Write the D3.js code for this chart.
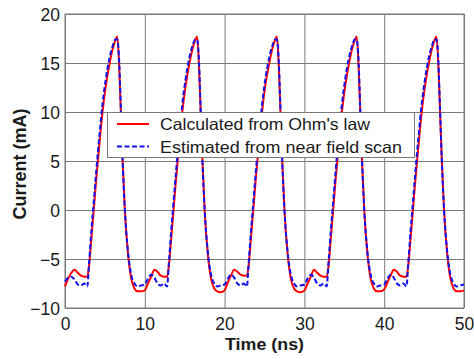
<!DOCTYPE html>
<html>
<head>
<meta charset="utf-8">
<script src="https://cdn.jsdelivr.net/npm/d3@7"></script>
<style>
  body { margin: 0; background: #fff; }
  text { font-family: "Liberation Sans", Arial, Helvetica, sans-serif; fill: #1a1a1a; }
</style>
</head>
<body>
<svg id="chart" width="474" height="359"></svg>
<script>
// time samples (ns)
const timeNs = [
  0, 0.4, 0.8, 1.2, 1.6, 2, 2.4, 2.8, 3, 3.3, 3.6, 3.9, 4.3, 4.7, 5.1, 5.6, 6, 6.3, 6.55, 6.8, 7, 7.2, 7.5, 7.9, 8.3, 8.7, 9.1, 9.5,
  10, 10.4, 10.8, 11.2, 11.6, 12, 12.4, 12.8, 13, 13.3, 13.6, 13.9, 14.3, 14.7, 15.1, 15.6, 16, 16.3, 16.55, 16.8, 17, 17.2, 17.5, 17.9, 18.3, 18.7, 19.1, 19.5,
  20, 20.4, 20.8, 21.2, 21.6, 22, 22.4, 22.8, 23, 23.3, 23.6, 23.9, 24.3, 24.7, 25.1, 25.6, 26, 26.3, 26.55, 26.8, 27, 27.2, 27.5, 27.9, 28.3, 28.7, 29.1, 29.5,
  30, 30.4, 30.8, 31.2, 31.6, 32, 32.4, 32.8, 33, 33.3, 33.6, 33.9, 34.3, 34.7, 35.1, 35.6, 36, 36.3, 36.55, 36.8, 37, 37.2, 37.5, 37.9, 38.3, 38.7, 39.1, 39.5,
  40, 40.4, 40.8, 41.2, 41.6, 42, 42.4, 42.8, 43, 43.3, 43.6, 43.9, 44.3, 44.7, 45.1, 45.6, 46, 46.3, 46.55, 46.8, 47, 47.2, 47.5, 47.9, 48.3, 48.7, 49.1, 49.5,
  50
];

// Calculated from Ohm's law (mA)
const calculated = [
  -7.8, -7.0, -6.4, -6.1, -6.4, -6.7, -6.8, -6.8, -5.8, -3.0, 0.0, 3.0, 6.6, 10.0, 12.6, 15.0, 16.5, 17.3, 17.7, 14.5, 10.0, 5.5, 0.0, -4.5, -7.0, -8.0, -8.3, -8.3,
  -8.2, -7.5, -6.8, -6.1, -6.3, -6.7, -6.8, -6.8, -5.8, -3.0, 0.0, 3.0, 6.6, 10.0, 12.6, 15.0, 16.5, 17.3, 17.7, 14.5, 10.0, 5.5, 0.0, -4.5, -7.0, -8.0, -8.3, -8.4,
  -8.2, -7.4, -6.7, -6.1, -6.3, -6.6, -6.7, -6.7, -5.8, -2.9, 0.1, 3.1, 6.7, 10.1, 12.7, 15.0, 16.5, 17.3, 17.7, 14.5, 10.0, 5.4, 0.0, -4.5, -7.0, -8.0, -8.3, -8.4,
  -8.2, -7.5, -6.8, -6.1, -6.4, -6.7, -6.8, -6.8, -5.9, -3.0, 0.0, 3.0, 6.6, 10.0, 12.6, 15.0, 16.5, 17.3, 17.7, 14.5, 10.0, 5.5, 0.0, -4.5, -7.0, -8.0, -8.3, -8.3,
  -8.1, -7.4, -6.7, -6.1, -6.3, -6.7, -6.8, -6.8, -5.8, -3.0, 0.0, 3.0, 6.6, 10.0, 12.6, 15.0, 16.5, 17.3, 17.7, 14.5, 10.0, 5.5, 0.0, -4.5, -7.0, -8.0, -8.3, -8.3,
  -8.2
];

// Estimated from near field scan (mA)
const estimated = [
  -7.3, -6.9, -6.8, -7.1, -7.6, -7.7, -7.5, -7.8, -5.6, -2.2, 0.8, 3.8, 7.5, 10.8, 13.3, 15.6, 16.8, 17.4, 17.4, 15.0, 10.2, 5.5, 0.0, -4.3, -6.6, -7.5, -7.8, -7.7,
  -7.6, -7.0, -6.6, -6.9, -7.5, -7.7, -7.5, -7.8, -5.6, -2.2, 0.8, 3.8, 7.5, 10.8, 13.3, 15.6, 16.8, 17.4, 17.4, 15.0, 10.2, 5.5, 0.0, -4.3, -6.6, -7.5, -7.8, -7.7,
  -7.6, -7.0, -6.6, -6.9, -7.5, -7.7, -7.5, -7.8, -5.6, -2.2, 0.8, 3.8, 7.5, 10.8, 13.3, 15.6, 16.8, 17.4, 17.4, 15.0, 10.2, 5.5, 0.0, -4.3, -6.6, -7.5, -7.8, -7.7,
  -7.6, -7.0, -6.6, -6.9, -7.5, -7.7, -7.5, -7.8, -5.6, -2.2, 0.8, 3.8, 7.5, 10.8, 13.3, 15.6, 16.8, 17.4, 17.4, 15.0, 10.2, 5.5, 0.0, -4.3, -6.6, -7.5, -7.8, -7.7,
  -7.6, -7.0, -6.6, -6.9, -7.5, -7.7, -7.5, -7.8, -5.6, -2.2, 0.8, 3.8, 7.5, 10.8, 13.3, 15.6, 16.8, 17.4, 17.4, 15.0, 10.2, 5.5, 0.0, -4.3, -6.6, -7.5, -7.8, -7.7,
  -7.6
];

const xTicks = [0, 10, 20, 30, 40, 50];
const yTicks = [-10, -5, 0, 5, 10, 15, 20];
const seriesNames = ["Calculated from Ohm's law", "Estimated from near field scan"];

const width = 474;
const height = 359;
const margin = { top: 14, right: 10, bottom: 51, left: 65 };
const innerWidth = width - margin.left - margin.right;
const innerHeight = height - margin.top - margin.bottom;

const svg = d3.select("#chart");
const chart = svg.append("g").attr("transform", `translate(${margin.left},${margin.top})`);

const x = d3.scaleLinear().domain([0, 50]).range([0, innerWidth]);
const y = d3.scaleLinear().domain([-10, 20]).range([innerHeight, 0]);

// grid + x axis
const gx = chart.append("g")
  .attr("transform", `translate(0,${innerHeight})`)
  .call(d3.axisBottom(x).tickValues(xTicks).tickSize(-innerHeight).tickFormat(d3.format("d")));
gx.select(".domain").remove();
gx.selectAll("line").attr("stroke", "#7a7a7a").attr("stroke-width", 1);
gx.selectAll("text")
  .attr("y", 22).attr("dy", null)
  .attr("font-size", 17.5).attr("fill", "#1a1a1a");

// grid + y axis
const gy = chart.append("g")
  .call(d3.axisLeft(y).tickValues(yTicks).tickSize(-innerWidth).tickFormat(d3.format("d")));
gy.select(".domain").remove();
gy.selectAll("line").attr("stroke", "#7a7a7a").attr("stroke-width", 1);
gy.selectAll("text")
  .attr("x", -5).attr("dy", "0.35em")
  .attr("font-size", 17.5).attr("fill", "#1a1a1a");

chart.append("rect")
  .attr("width", innerWidth).attr("height", innerHeight)
  .attr("fill", "none").attr("stroke", "#7a7a7a").attr("stroke-width", 1);

const line = (values) => d3.line()
  .x((d, i) => x(timeNs[i]))
  .y((d) => y(d))
  .curve(d3.curveMonotoneX)(values);

chart.append("path")
  .attr("d", line(calculated))
  .attr("fill", "none").attr("stroke", "#ff0000").attr("stroke-width", 2);

chart.append("path")
  .attr("d", line(estimated))
  .attr("fill", "none").attr("stroke", "#1010f0").attr("stroke-width", 2)
  .attr("stroke-dasharray", "5,2.5");

// legend
const legend = svg.append("g").attr("transform", "translate(107.5,112.5)");
legend.append("rect")
  .attr("width", 307).attr("height", 45)
  .attr("fill", "#fff").attr("stroke", "#7a7a7a").attr("stroke-width", 1);

const styles = [
  { color: "#ff0000", dash: null, len: 210 },
  { color: "#1010f0", dash: "5,2.5", len: 242 },
];
seriesNames.forEach((name, i) => {
  const yy = 11.5 + i * 22.5;
  legend.append("line")
    .attr("x1", 9.5).attr("x2", 41.5).attr("y1", yy).attr("y2", yy)
    .attr("stroke", styles[i].color).attr("stroke-width", 2)
    .attr("stroke-dasharray", styles[i].dash);
  legend.append("text")
    .attr("x", 52.5).attr("y", yy + 6)
    .attr("font-size", 16.5)
    .attr("textLength", styles[i].len).attr("lengthAdjust", "spacingAndGlyphs")
    .text(name);
});

// axis titles
svg.append("text")
  .attr("x", margin.left + innerWidth / 2).attr("y", 350)
  .attr("text-anchor", "middle")
  .attr("font-size", 16.5).attr("font-weight", "bold")
  .attr("textLength", 79).attr("lengthAdjust", "spacingAndGlyphs")
  .text("Time (ns)");

svg.append("text")
  .attr("transform", `translate(26,${margin.top + innerHeight / 2 + 3}) rotate(-90)`)
  .attr("text-anchor", "middle")
  .attr("font-size", 18).attr("font-weight", "bold")
  .text("Current (mA)");
</script>
</body>
</html>
